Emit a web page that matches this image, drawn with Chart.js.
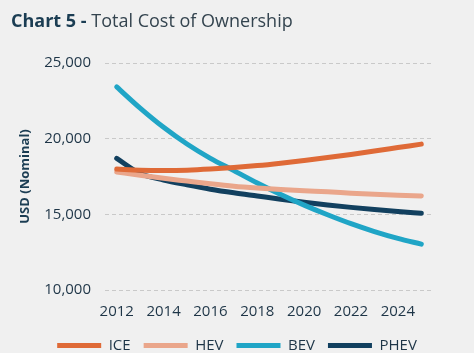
<!DOCTYPE html>
<html>
<head>
<meta charset="utf-8">
<script src="https://cdn.jsdelivr.net/npm/chart.js@4"></script>
<style>
  html, body { margin: 0; padding: 0; background: #f0f0f0; }
  #wrap { position: relative; width: 474px; height: 353px; }
  #title { position: absolute; left: 11px; top: 8px; line-height: 24px; font-family: "Open Sans", sans-serif; font-size: 18px; color: #34444f; white-space: nowrap; }
  #title b { color: #1b3d53; }
  canvas { display: block; }
</style>
</head>
<body>
<div id="wrap">
  <div id="title"><b>Chart 5 -</b> Total Cost of Ownership</div>
  <canvas id="tco-chart" width="474" height="353"></canvas>
</div>
<script>
let yearLabels = ["2012", "2013", "2014", "2015", "2016", "2017", "2018", "2019", "2020", "2021", "2022", "2023", "2024", "2025"];
let iceData = [17990, 17920, 17900, 17920, 17990, 18090, 18220, 18380, 18560, 18750, 18960, 19180, 19410, 19640];
let hevData = [17800, 17580, 17380, 17200, 17020, 16860, 16740, 16640, 16560, 16490, 16400, 16320, 16260, 16215];
let bevData = [23420, 22020, 20750, 19650, 18700, 17890, 17070, 16310, 15610, 14970, 14380, 13860, 13410, 13030];
let phevData = [18700, 17700, 17270, 16950, 16660, 16420, 16210, 16000, 15800, 15620, 15460, 15320, 15190, 15070];

let textColor = "#1e3547";
let tickFont = { family: "Open Sans", size: 15 };

let tcoCanvas = document.getElementById("tco-chart").getContext("2d");

let tcoChart = new Chart(tcoCanvas, {
    type: "line",
    data: {
        labels: yearLabels,
        datasets: [
            { label: "ICE", data: iceData, borderColor: "#df6a37", backgroundColor: "#df6a37" },
            { label: "HEV", data: hevData, borderColor: "#eaa68b", backgroundColor: "#eaa68b" },
            { label: "BEV", data: bevData, borderColor: "#20a5c6", backgroundColor: "#20a5c6" },
            { label: "PHEV", data: phevData, borderColor: "#12405f", backgroundColor: "#12405f" }
        ]
    },
    options: {
        responsive: false,
        animation: false,
        layout: { padding: { top: 63, left: 0, right: 0, bottom: 0 } },
        elements: {
            line: { borderWidth: 5, cubicInterpolationMode: "monotone", borderCapStyle: "round" },
            // point border width only feeds the legend line thickness
            point: { radius: 0, hoverRadius: 0, borderWidth: 5 }
        },
        plugins: {
            tooltip: { enabled: false },
            legend: {
                position: "bottom",
                maxHeight: 28,
                labels: {
                    usePointStyle: true,
                    pointStyle: "line",
                    pointStyleWidth: 44,
                    padding: 13,
                    color: textColor,
                    font: tickFont
                }
            }
        },
        scales: {
            x: {
                offset: true,
                grid: { display: false },
                border: { display: false },
                ticks: {
                    autoSkip: false,
                    maxRotation: 0,
                    padding: 5,
                    color: textColor,
                    font: tickFont,
                    callback: function (val, i) {
                        return i % 2 === 0 ? this.getLabelForValue(val) : "";
                    }
                },
                afterFit: function (s) { s.height = 35; }
            },
            y: {
                min: 10000,
                max: 25000,
                grid: { color: "#c9c9c9", drawTicks: false },
                border: { display: false, dash: [4, 3] },
                ticks: {
                    stepSize: 5000,
                    padding: 14,
                    color: textColor,
                    font: tickFont,
                    callback: function (v) { return v.toLocaleString("en-US"); }
                },
                title: {
                    display: true,
                    text: "USD (Nominal)",
                    color: "#1b3d53",
                    font: { family: "Open Sans", size: 13, weight: "bold" },
                    padding: { top: 17, bottom: 0 }
                },
                afterFit: function (s) { s.width = 105; }
            },
            yRight: {
                position: "right",
                grid: { display: false },
                border: { display: false },
                ticks: { display: false },
                afterFit: function (s) { s.width = 41; }
            }
        }
    }
});
</script>
</body>
</html>
